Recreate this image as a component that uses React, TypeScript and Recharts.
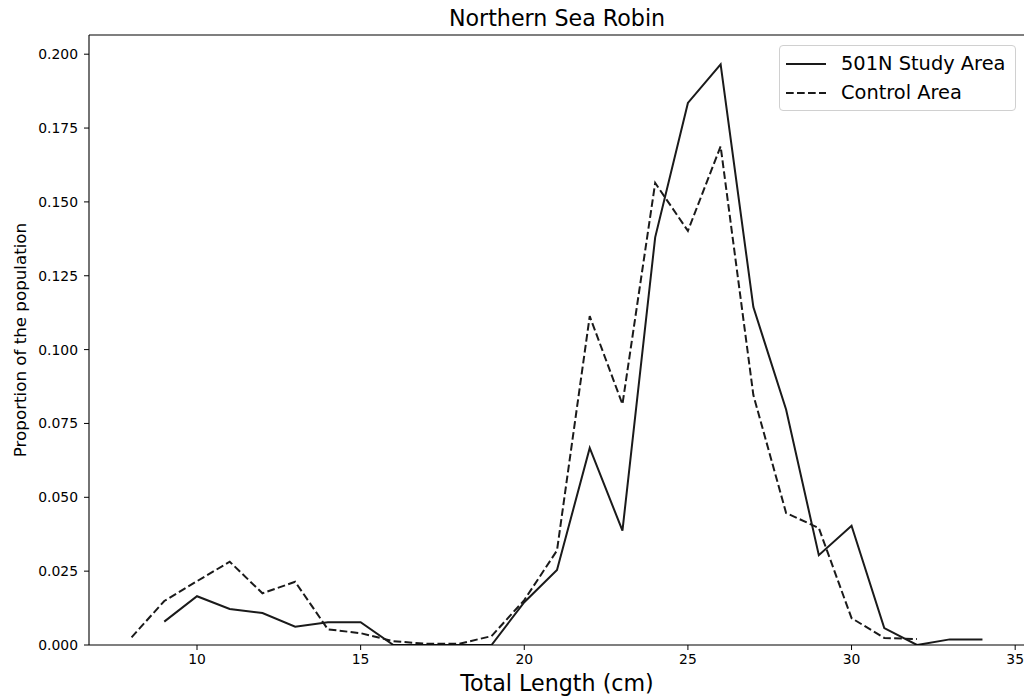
import React from "react";
import { LineChart, Line, XAxis, YAxis, Legend, ReferenceLine } from "recharts";

const lengths = [8, 9, 10, 11, 12, 13, 14, 15, 16, 17, 18, 19, 20, 21, 22, 23, 24, 25, 26, 27, 28, 29, 30, 31, 32, 33, 34];
const studyArea = [null, 0.0079, 0.0165, 0.0122, 0.0108, 0.0062, 0.0077, 0.0077, 0, 0, 0, 0, 0.0145, 0.0254, 0.0667, 0.0387, 0.138, 0.1835, 0.1966, 0.1144, 0.0797, 0.0304, 0.0404, 0.0057, 0, 0.0019, 0.0019];
const controlArea = [0.0026, 0.0149, 0.0216, 0.0282, 0.0175, 0.0214, 0.0053, 0.004, 0.0013, 0.0004, 0.0004, 0.003, 0.0152, 0.032, 0.1113, 0.0815, 0.1564, 0.1402, 0.1688, 0.0846, 0.0447, 0.0396, 0.0091, 0.0024, 0.002, null, null];
const xTicks = [10, 15, 20, 25, 30, 35];
const yTicks = [0, 0.025, 0.05, 0.075, 0.1, 0.125, 0.15, 0.175, 0.2];

const seriesNames = { study: "501N Study Area", control: "Control Area" };
const titleText = "Northern Sea Robin";
const xLabel = "Total Length (cm)";
const yLabel = "Proportion of the population";

const X_DOMAIN: [number, number] = [6.7, 35.3];
const Y_MAX = 0.2065;

const data = lengths.map((x, i) => ({
  x,
  study: studyArea[i],
  control: controlArea[i],
}));

const FONT = "'DejaVu Sans', sans-serif";
const LINE = "#1a1a1a";
const DASH = "7.7 3.3";

function LegendBox() {
  const rows = [
    { name: seriesNames.study, dash: undefined as string | undefined },
    { name: seriesNames.control, dash: DASH },
  ];
  return (
    <div
      style={{
        border: "1px solid #d0d0d0",
        borderRadius: 4,
        background: "rgba(255,255,255,0.8)",
        padding: "3px 9px 3px 6px",
        fontFamily: FONT,
        fontSize: 19.4,
        color: "#000",
        boxSizing: "border-box",
      }}
    >
      {rows.map((r) => (
        <div key={r.name} style={{ display: "flex", alignItems: "center", height: 29.2 }}>
          <svg width={40} height={10} style={{ marginRight: 15 }}>
            <line x1={0} y1={5} x2={40} y2={5} stroke={LINE} strokeWidth={2} strokeDasharray={r.dash} />
          </svg>
          <span style={{ whiteSpace: "nowrap" }}>{r.name}</span>
        </div>
      ))}
    </div>
  );
}

export default function App() {
  return (
    <div
      style={{
        position: "fixed",
        left: 0,
        top: 0,
        width: 1024,
        height: 700,
        overflow: "hidden",
        background: "#fff",
        fontFamily: FONT,
      }}
    >
      <div
        style={{
          position: "absolute",
          left: 89,
          width: 936,
          top: 5,
          textAlign: "center",
          fontSize: 22.2,
          lineHeight: "26px",
          color: "#000",
        }}
      >
        {titleText}
      </div>
      <div
        style={{
          position: "absolute",
          left: 89,
          width: 936,
          top: 670,
          textAlign: "center",
          fontSize: 22.2,
          lineHeight: "26px",
          color: "#000",
        }}
      >
        {xLabel}
      </div>
      <div
        style={{
          position: "absolute",
          left: 20,
          top: 340,
          transform: "translate(-50%, -50%) rotate(-90deg)",
          whiteSpace: "nowrap",
          fontSize: 16.7,
          lineHeight: "20px",
          color: "#000",
        }}
      >
        {yLabel}
      </div>
      <div style={{ position: "absolute", left: 0, top: 0 }}>
        <LineChart width={1040} height={700} data={data} margin={{ top: 35, right: 15, bottom: 25, left: 0 }}>
          <XAxis
            dataKey="x"
            type="number"
            domain={X_DOMAIN}
            ticks={xTicks}
            allowDataOverflow
            height={30}
            tickSize={5}
            tickMargin={4}
            stroke="#000"
            tick={{ fill: "#000", fontSize: 13.9, fontFamily: FONT }}
            axisLine={{ stroke: "#000", strokeWidth: 1.1 }}
          />
          <YAxis
            type="number"
            domain={[0, Y_MAX]}
            ticks={yTicks}
            allowDataOverflow
            width={89}
            tickSize={5}
            tickMargin={6}
            stroke="#000"
            tickFormatter={(v: number) => v.toFixed(3)}
            tick={{ fill: "#000", fontSize: 13.9, fontFamily: FONT }}
            axisLine={{ stroke: "#000", strokeWidth: 1.1 }}
          />
          <ReferenceLine y={Y_MAX} stroke="#000" strokeWidth={1.1} ifOverflow="visible" />
          <ReferenceLine x={X_DOMAIN[1]} stroke="#000" strokeWidth={1.1} ifOverflow="visible" />
          <Legend
            layout="vertical"
            align="center"
            verticalAlign="middle"
            wrapperStyle={{ top: 45, left: 779, width: 237 }}
            content={() => <LegendBox />}
          />
          <Line
            type="linear"
            dataKey="study"
            name={seriesNames.study}
            stroke={LINE}
            strokeWidth={2}
            dot={false}
            activeDot={false}
            isAnimationActive={false}
          />
          <Line
            type="linear"
            dataKey="control"
            name={seriesNames.control}
            stroke={LINE}
            strokeWidth={2}
            strokeDasharray={DASH}
            dot={false}
            activeDot={false}
            isAnimationActive={false}
          />
        </LineChart>
      </div>
    </div>
  );
}
